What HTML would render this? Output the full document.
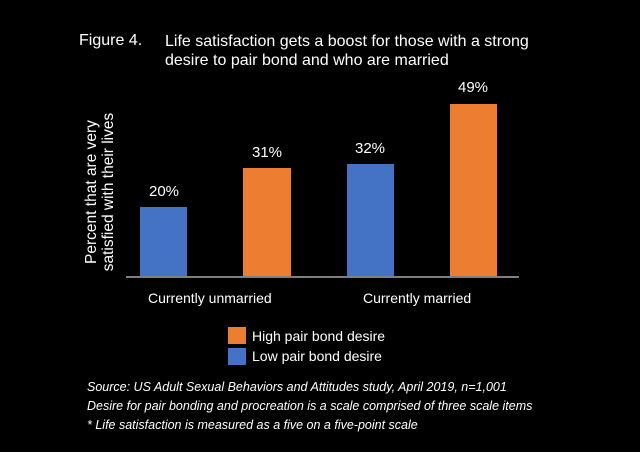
<!DOCTYPE html>
<html><head><style>
body{margin:0;background:#000;width:640px;height:452px;overflow:hidden;font-family:"Liberation Sans",sans-serif;color:#fff;position:relative}
.t{position:absolute;white-space:nowrap}
.b{position:absolute}
.v{position:absolute;font-size:15px;width:60px;text-align:center}
</style></head><body>
<div class="t" style="left:79px;top:32px;font-size:16px">Figure 4.</div>
<div class="t" style="left:165px;top:32px;font-size:16px;line-height:19px">Life satisfaction gets a boost for those with a strong<br>desire to pair bond and who are married</div>
<div class="t" style="left:100px;top:192px;font-size:15.5px;line-height:17px;text-align:center;transform:translate(-50%,-50%) rotate(-90deg)">Percent that are very<br>satisfied with their lives</div>
<div class="b" style="left:140px;top:207px;width:47px;height:70px;background:#4472c4"></div>
<div class="b" style="left:243px;top:168px;width:48px;height:109px;background:#ed7d31"></div>
<div class="b" style="left:347px;top:164px;width:47px;height:113px;background:#4472c4"></div>
<div class="b" style="left:450px;top:104px;width:47px;height:173px;background:#ed7d31"></div>
<div class="b" style="left:126px;top:276px;width:393px;height:2px;background:#7f7f7f"></div>
<div class="v" style="left:134px;top:183px">20%</div>
<div class="v" style="left:237px;top:144px">31%</div>
<div class="v" style="left:340px;top:140px">32%</div>
<div class="v" style="left:443px;top:79px">49%</div>
<div class="t" style="left:148px;top:290px;font-size:14px">Currently unmarried</div>
<div class="t" style="left:363px;top:290px;font-size:14px">Currently married</div>
<div class="b" style="left:228px;top:327px;width:18px;height:17px;background:#ed7d31"></div>
<div class="b" style="left:228px;top:348px;width:18px;height:17px;background:#4472c4"></div>
<div class="t" style="left:252px;top:328px;font-size:14px">High pair bond desire</div>
<div class="t" style="left:252px;top:348px;font-size:14px">Low pair bond desire</div>
<div class="t" style="left:87px;top:378px;font-size:12.5px;font-style:italic;line-height:19px">Source: US Adult Sexual Behaviors and Attitudes study, April 2019, n=1,001<br>Desire for pair bonding and procreation is a scale comprised of three scale items<br>* Life satisfaction is measured as a five on a five-point scale</div>
</body></html>
